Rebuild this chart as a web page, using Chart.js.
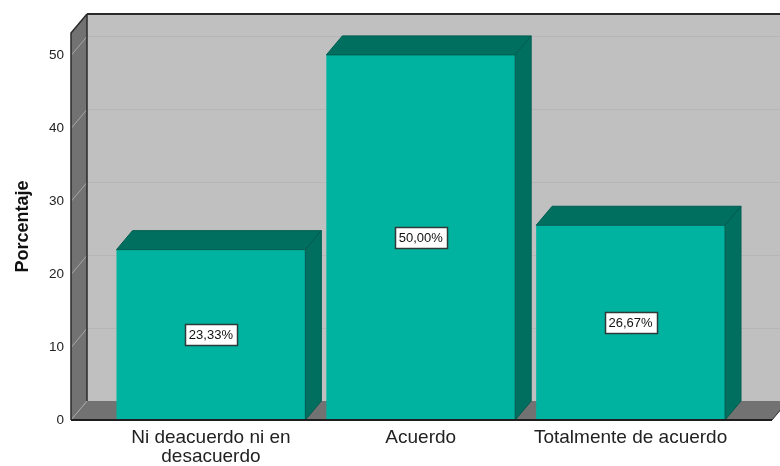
<!DOCTYPE html>
<html>
<head>
<meta charset="utf-8">
<script src="https://cdn.jsdelivr.net/npm/chart.js@4.4.1/dist/chart.umd.min.js"></script>
<style>
  html, body { margin: 0; padding: 0; background: #ffffff; }
  #wrap { width: 780px; height: 466px; position: relative; }
</style>
</head>
<body>
<div id="wrap"><canvas id="c" width="780" height="466"></canvas></div>
<script>
// ---- data ----
const categories = [["Ni deacuerdo ni en", "desacuerdo"], "Acuerdo", "Totalmente de acuerdo"];
const percentages = [23.33, 50.00, 26.67];
const valueLabels = ["23,33%", "50,00%", "26,67%"];
const yTickValues = [0, 10, 20, 30, 40, 50];
const yAxisTitle = "Porcentaje";

// ---- style ----
const FONT = "'Liberation Sans', Arial, sans-serif";
const DX = 16, DY = -19;
const FRONT = "#00b3a0", DARK = "#006f60";

const threeD = {
  id: "threeD",
  beforeDatasetsDraw(chart) {
    const ctx = chart.ctx, a = chart.chartArea, y = chart.scales.y;
    const W = chart.width;
    const XL = a.left - 35, XR = a.right + 36.5;
    const yTop = a.top, y0 = a.bottom;
    ctx.save();
    ctx.fillStyle = "#c0c0c0";
    ctx.fillRect(XL + DX, yTop + DY, W - (XL + DX), (y0 + DY) - (yTop + DY));
    ctx.fillStyle = "#727272";
    ctx.beginPath();
    ctx.moveTo(XL, yTop); ctx.lineTo(XL + DX, yTop + DY);
    ctx.lineTo(XL + DX, y0 + DY); ctx.lineTo(XL, y0); ctx.closePath(); ctx.fill();
    ctx.fillStyle = "#727272";
    ctx.beginPath();
    ctx.moveTo(XL, y0); ctx.lineTo(XL + DX, y0 + DY);
    ctx.lineTo(XR + DX, y0 + DY); ctx.lineTo(XR, y0); ctx.closePath(); ctx.fill();
    yTickValues.forEach(v => {
      if (v === 0) return;
      const py = Math.round(y.getPixelForValue(v)) + 0.5;
      ctx.strokeStyle = "#b6b6b6"; ctx.lineWidth = 1;
      ctx.beginPath(); ctx.moveTo(XL + DX, py + DY); ctx.lineTo(W, py + DY); ctx.stroke();
      ctx.strokeStyle = "#a6a6a6";
      ctx.beginPath(); ctx.moveTo(XL, py); ctx.lineTo(XL + DX, py + DY); ctx.stroke();
    });
    ctx.strokeStyle = "#a6a6a6";
    ctx.beginPath(); ctx.moveTo(XL, y0); ctx.lineTo(XL + DX, y0 + DY); ctx.stroke();
    ctx.strokeStyle = "#2a2a2a";
    ctx.lineWidth = 2;
    ctx.beginPath(); ctx.moveTo(XL + DX, yTop + DY); ctx.lineTo(W, yTop + DY); ctx.stroke();
    ctx.lineWidth = 1.5;
    ctx.beginPath(); ctx.moveTo(XL, y0); ctx.lineTo(XL, yTop); ctx.lineTo(XL + DX, yTop + DY); ctx.stroke();
    ctx.beginPath(); ctx.moveTo(XL + DX, yTop + DY); ctx.lineTo(XL + DX, y0 + DY); ctx.stroke();
    ctx.lineWidth = 1;
    ctx.beginPath(); ctx.moveTo(XR, y0); ctx.lineTo(XR + DX, y0 + DY); ctx.stroke();
    ctx.restore();
  },
  afterDatasetsDraw(chart) {
    const ctx = chart.ctx, a = chart.chartArea;
    const XL = a.left - 35, XR = a.right + 36.5;
    const meta = chart.getDatasetMeta(0);
    ctx.save();
    meta.data.forEach((bar, i) => {
      const w = bar.width, l = bar.x - w / 2, r = bar.x + w / 2;
      const t = bar.y, b = bar.base;
      ctx.fillStyle = DARK;
      ctx.strokeStyle = "#005c50"; ctx.lineWidth = 1;
      ctx.beginPath();
      ctx.moveTo(l, t); ctx.lineTo(l + DX, t + DY); ctx.lineTo(r + DX, t + DY); ctx.lineTo(r, t);
      ctx.closePath(); ctx.fill(); ctx.stroke();
      ctx.beginPath();
      ctx.moveTo(r, t); ctx.lineTo(r + DX, t + DY); ctx.lineTo(r + DX, b + DY); ctx.lineTo(r, b);
      ctx.closePath(); ctx.fill(); ctx.stroke();
    });
    ctx.strokeStyle = "#1e1e1e"; ctx.lineWidth = 2;
    ctx.beginPath(); ctx.moveTo(XL, a.bottom); ctx.lineTo(XR, a.bottom); ctx.stroke();
    ctx.font = "13px " + FONT;
    ctx.textAlign = "center"; ctx.textBaseline = "middle";
    meta.data.forEach((bar, i) => {
      const cx = bar.x, cy = (bar.y + bar.base) / 2;
      const txt = valueLabels[i];
      const tw = ctx.measureText(txt).width;
      const bw = Math.round(tw + 8), bh = 21;
      const bx = Math.round(cx - bw / 2) + 0.5, by = Math.round(cy - bh / 2) + 0.5;
      ctx.fillStyle = "#ffffff";
      ctx.fillRect(bx, by, bw, bh);
      ctx.strokeStyle = "#2e3a38"; ctx.lineWidth = 1.5;
      ctx.strokeRect(bx, by, bw, bh);
      ctx.fillStyle = "#111111";
      ctx.fillText(txt, cx, cy + 1);
    });
    ctx.restore();
  }
};

new Chart(document.getElementById("c"), {
  type: "bar",
  data: {
    labels: categories,
    datasets: [{
      data: percentages,
      backgroundColor: FRONT,
      borderWidth: 0,
      categoryPercentage: 1.0,
      barPercentage: 0.9
    }]
  },
  options: {
    responsive: false,
    animation: false,
    devicePixelRatio: 1,
    layout: { padding: { top: 33, right: 44.5, bottom: 0, left: 0 } },
    plugins: { legend: { display: false }, tooltip: { enabled: false } },
    scales: {
      x: {
        grid: { display: false, drawTicks: false },
        border: { display: false },
        ticks: {
          color: "#222222",
          font: { family: FONT, size: 19, lineHeight: 1.02 },
          padding: 8,
          maxRotation: 0,
          autoSkip: false
        },
        afterFit(s) { s.height = 46; s.paddingLeft = 0; s.paddingRight = 0; }
      },
      y: {
        min: 0,
        max: 53,
        grid: { display: false, drawTicks: false },
        border: { display: false },
        ticks: {
          stepSize: 10,
          color: "#222222",
          font: { family: FONT, size: 13.5 },
          padding: 42
        },
        afterBuildTicks(s) {
          s.ticks = yTickValues.map(v => ({ value: v }));
        },
        title: {
          display: true,
          text: yAxisTitle,
          color: "#111111",
          font: { family: FONT, size: 18, weight: "bold" },
          padding: { top: 12, bottom: 0 }
        },
        afterFit(s) { s.width = 106; s.paddingTop = 0; s.paddingBottom = 0; }
      }
    }
  },
  plugins: [threeD]
});
</script>
</body>
</html>
